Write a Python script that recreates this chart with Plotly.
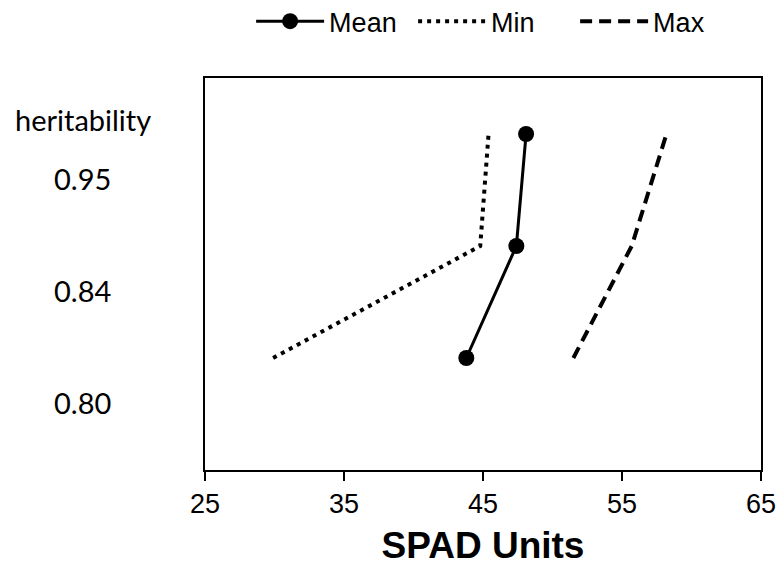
import plotly.graph_objects as go

# Heritability levels (bottom to top) and SPAD readings for each
heritability = ["0.80", "0.84", "0.95"]
level = [1, 2, 3]
spad_mean = [43.8, 47.4, 48.1]
spad_min = [29.9, 44.8, 45.4]
spad_max = [51.5, 55.7, 58.2]
x_ticks = [25, 35, 45, 55, 65]

fig = go.Figure()
fig.add_trace(go.Scatter(
    x=spad_mean, y=level, name="Mean", mode="lines+markers",
    line=dict(color="black", width=3),
    marker=dict(color="black", size=16),
))
fig.add_trace(go.Scatter(
    x=spad_min, y=level, name="Min", mode="lines",
    line=dict(color="black", width=4, dash="4px,5px"),
))
fig.add_trace(go.Scatter(
    x=spad_max, y=level, name="Max", mode="lines",
    line=dict(color="black", width=4, dash="12px,7px"),
))

# Heritability labels drawn beside the frame
label_font = dict(family="Lato", size=29, color="black")
for lv, h in zip(level, heritability):
    fig.add_annotation(x=-0.22, xref="paper", y=lv, yref="y", yshift=-44,
                       text=h, showarrow=False, xanchor="center",
                       yanchor="middle", font=label_font)
fig.add_annotation(x=-0.22, xref="paper", y=level[-1], yref="y", yshift=15,
                   text="heritability", showarrow=False, xanchor="center",
                   yanchor="middle", font=label_font)

fig.update_layout(
    width=779, height=570,
    margin=dict(l=205, r=18, t=78, b=100, autoexpand=False),
    plot_bgcolor="white", paper_bgcolor="white",
    font=dict(family="Liberation Sans, Arial", color="black"),
    showlegend=True,
    legend=dict(orientation="h", x=0.52, xanchor="center",
                y=0.962, yref="container", yanchor="middle",
                font=dict(size=27), itemwidth=68, entrywidth=79,
                bgcolor="rgba(0,0,0,0)"),
    xaxis=dict(range=[25, 65], tickvals=x_ticks, ticks="outside",
               ticklen=9, tickwidth=1.5, tickcolor="black",
               showline=True, linecolor="black", linewidth=1.5, mirror=True,
               showgrid=False, zeroline=False,
               tickfont=dict(size=27),
               title=dict(text="<b>SPAD Units</b>", font=dict(size=37),
                          standoff=14)),
    yaxis=dict(range=[0, 3.5], showticklabels=False, ticks="",
               showline=True, linecolor="black", linewidth=1.5, mirror=True,
               showgrid=False, zeroline=False),
)

fig.write_html("out.html")
